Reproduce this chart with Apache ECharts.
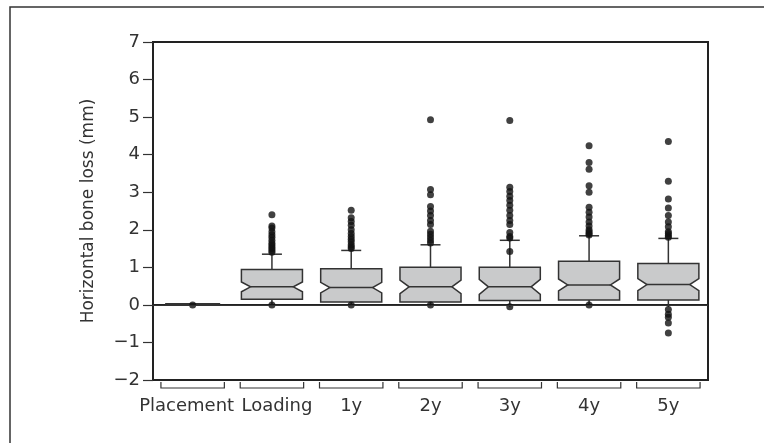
<!DOCTYPE html>
<html>
<head>
<meta charset="utf-8">
<script src="https://cdn.jsdelivr.net/npm/echarts@6/dist/echarts.min.js"></script>
<style>
  html, body { margin: 0; padding: 0; background: #fff; }
  #main { width: 764px; height: 443px; }
</style>
</head>
<body>
<div id="main"></div>
<script>
var categories = ['Placement', 'Loading', '1y', '2y', '3y', '4y', '5y'];

// box statistics per group (mm)
var lowWhisker = [0.02, 0, 0, 0, -0.05, 0, -0.05];
var q1 = [0.02, 0.15, 0.08, 0.08, 0.12, 0.13, 0.13];
var median = [0.02, 0.48, 0.46, 0.48, 0.48, 0.53, 0.54];
var q3 = [0.02, 0.94, 0.96, 1.0, 1.0, 1.16, 1.1];
var highWhisker = [0.02, 1.35, 1.45, 1.6, 1.72, 1.84, 1.77];
var notchHalf = [0, 0.13, 0.14, 0.18, 0.2, 0.16, 0.16];

// single points (outliers and minimum dots)
var placementPts = [0];
var loadingPts = [0, 1.4, 1.45, 1.5, 1.55, 1.6, 1.65, 1.72, 1.8, 1.87, 1.95, 2.05, 2.1, 2.4];
var y1Pts = [0, 1.5, 1.55, 1.6, 1.68, 1.75, 1.82, 1.9, 2.0, 2.12, 2.22, 2.32, 2.52];
var y2Pts = [0, 1.65, 1.72, 1.8, 1.88, 1.96, 2.14, 2.25, 2.38, 2.5, 2.62, 2.93, 3.07, 4.93];
var y3Pts = [-0.05, 1.42, 1.78, 1.82, 1.93, 2.14, 2.25, 2.38, 2.52, 2.65, 2.78, 2.89, 3.02, 3.13, 4.91];
var y4Pts = [0, 1.86, 1.9, 1.95, 2.0, 2.1, 2.21, 2.34, 2.47, 2.6, 3.0, 3.17, 3.61, 3.79, 4.24];
var y5Pts = [-0.75, -0.48, -0.33, -0.25, -0.12, 1.8, 1.84, 1.9, 1.95, 2.08, 2.21, 2.38, 2.58, 2.82, 3.29, 4.35];

var yTicks = [-2, 7, 1]; // min, max, interval

(function () {
    var myChart = echarts.init(document.getElementById('main'));
    var font = 'DejaVu Sans';
    var ink = '#333';

    var boxData = categories.map(function (c, i) {
        return [i, lowWhisker[i], q1[i], median[i], q3[i], highWhisker[i], notchHalf[i]];
    });

    var pointGroups = [placementPts, loadingPts, y1Pts, y2Pts, y3Pts, y4Pts, y5Pts];
    var pointData = [];
    pointGroups.forEach(function (arr, i) {
        arr.forEach(function (v) { pointData.push([i, v]); });
    });

    // the first two labels are wide, nudge them apart
    var labelPad = { Placement: [0, 12, 0, 0], Loading: [0, 0, 0, 10] };
    var xData = categories.map(function (c) {
        return labelPad[c] ? { value: c, textStyle: { padding: labelPad[c] } } : c;
    });

    // notched box drawn with custom series
    function renderBox(params, api) {
        var x = api.value(0);
        var cx = api.coord([x, api.value(3)])[0];
        var band = api.size([1, 0])[0];
        var half = band * 0.385;
        var inset = half * 2 * 0.15;
        var yv = function (v) { return api.coord([x, v])[1]; };
        var yLow = yv(api.value(1)), yQ1 = yv(api.value(2)), yMed = yv(api.value(3));
        var yQ3 = yv(api.value(4)), yHigh = yv(api.value(5));
        var yNt = yv(api.value(3) + api.value(6)), yNb = yv(api.value(3) - api.value(6));
        var yBase = yv(yTicks[0]);
        var bh = band * 0.4;
        var children = [];

        if (api.value(4) > api.value(2)) {
            children.push({
                type: 'line', shape: { x1: cx, y1: yQ3, x2: cx, y2: yHigh },
                style: { stroke: ink, lineWidth: 1.5 }
            }, {
                type: 'line', shape: { x1: cx - 10, y1: yHigh, x2: cx + 10, y2: yHigh },
                style: { stroke: ink, lineWidth: 1.5 }
            }, {
                type: 'line', shape: { x1: cx, y1: yQ1, x2: cx, y2: yLow },
                style: { stroke: ink, lineWidth: 1.5 }
            }, {
                type: 'polygon',
                shape: {
                    points: [
                        [cx - half, yQ3], [cx + half, yQ3], [cx + half, yNt], [cx + half - inset, yMed],
                        [cx + half, yNb], [cx + half, yQ1], [cx - half, yQ1], [cx - half, yNb],
                        [cx - half + inset, yMed], [cx - half, yNt]
                    ]
                },
                style: { fill: '#c9cacb', stroke: ink, lineWidth: 1.5 }
            }, {
                type: 'line', shape: { x1: cx - half + inset, y1: yMed, x2: cx + half - inset, y2: yMed },
                style: { stroke: ink, lineWidth: 1.5 }
            });
        } else {
            // flat group: every value the same
            children.push({
                type: 'line', shape: { x1: cx - half + 3, y1: yMed, x2: cx + half - 3, y2: yMed },
                style: { stroke: ink, lineWidth: 2.5 }
            });
        }

        // bracket under the category
        children.push({
            type: 'polyline',
            shape: { points: [[cx - bh, yBase + 2], [cx - bh, yBase + 8], [cx + bh, yBase + 8], [cx + bh, yBase + 2]] },
            style: { stroke: ink, lineWidth: 1.2, fill: null }
        });

        return { type: 'group', children: children };
    }

    option = {
        backgroundColor: '#fff',
        animation: false,
        graphic: [{
            type: 'polyline',
            shape: { points: [[10, 443], [10, 7], [764, 7]] },
            style: { stroke: ink, lineWidth: 1.5, fill: null }
        }],
        grid: {
            left: 153, right: 56, top: 42, bottom: 63,
            show: true, borderColor: '#222', borderWidth: 2
        },
        xAxis: {
            type: 'category',
            data: xData,
            axisLine: { lineStyle: { color: '#222', width: 2 } },
            axisTick: { show: false },
            axisLabel: { interval: 0, margin: 17, color: ink, fontFamily: font, fontSize: 18 }
        },
        yAxis: {
            type: 'value',
            min: yTicks[0], max: yTicks[1], interval: yTicks[2],
            name: 'Horizontal bone loss (mm)',
            nameLocation: 'middle',
            nameGap: 56,
            nameTextStyle: { color: ink, fontFamily: font, fontSize: 17 },
            splitLine: { show: false },
            axisLine: { show: true, lineStyle: { color: '#222', width: 2 } },
            axisTick: { show: true, length: 10, lineStyle: { color: ink, width: 1.2 } },
            axisLabel: {
                margin: 13, color: ink, fontFamily: font, fontSize: 18,
                formatter: function (v) { return String(v).replace('-', '\u2212'); }
            }
        },
        series: [{
            type: 'custom',
            renderItem: renderBox,
            data: boxData,
            encode: { x: 0, y: [1, 2, 3, 4, 5] },
            clip: false,
            z: 3
        }, {
            type: 'scatter',
            data: pointData,
            symbol: 'circle',
            symbolSize: 7,
            itemStyle: { color: '#111' },
            z: 4,
            markLine: {
                silent: true,
                symbol: 'none',
                label: { show: false },
                lineStyle: { color: ink, width: 1, type: 'solid' },
                data: [{ yAxis: 0 }]
            }
        }]
    };
    myChart.setOption(option);
})()
</script>
</body>
</html>
